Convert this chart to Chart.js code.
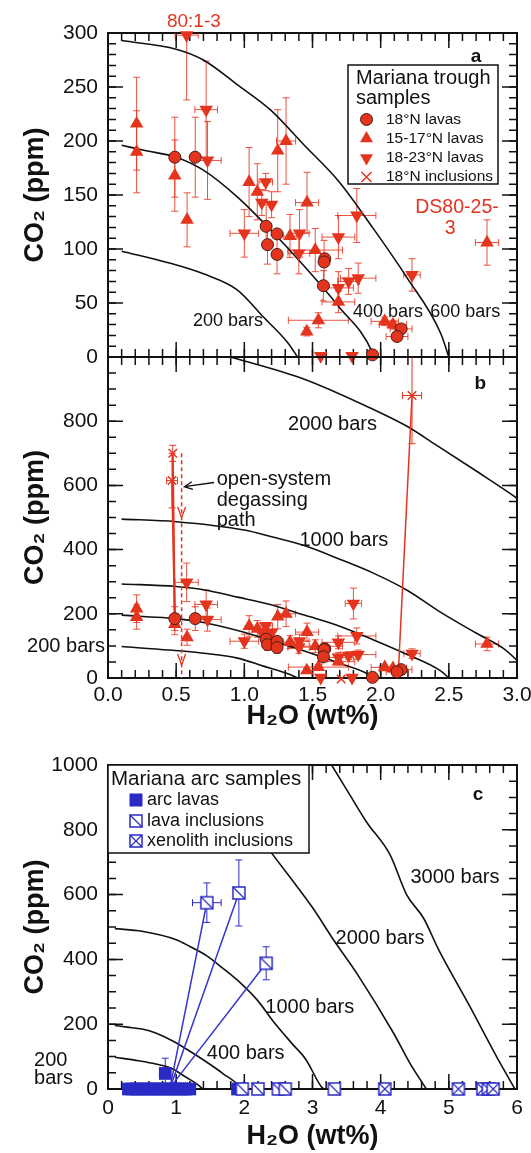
<!DOCTYPE html>
<html>
<head>
<meta charset="utf-8">
<title>Mariana CO2 vs H2O</title>
<script src="https://cdn.jsdelivr.net/npm/chart.js@4.4.1/dist/chart.umd.min.js"></script>
<style>
  html, body { margin: 0; padding: 0; background: #fff; }
  body { position: relative; width: 531px; height: 1153px; overflow: hidden; }
  canvas { position: absolute; left: 0; }
</style>
</head>
<body>
<canvas id="panel-a" width="531" height="380" style="top:0"></canvas>
<canvas id="panel-b" width="531" height="400" style="top:330px"></canvas>
<canvas id="panel-c" width="531" height="413" style="top:740px"></canvas>
<script>
// Mariana trough / arc melt volatiles: CO2 vs H2O with solubility isobars

const FONT = "'Liberation Sans', Arial, Helvetica, sans-serif";
const RED = '#e5341e';
const RED_ERR = 'rgba(229,52,30,0.85)';
const BLUE = '#2a2ac6';
const INK = '#111';

// isobars (H2O wt%, CO2 ppm)
const bar200X = [0.1, 0.45, 0.7, 0.95, 1.14, 1.32, 1.39];
const bar200Y = [98, 87, 77, 62, 37, 13, 0];
const bar400X = [0.1, 0.28, 0.5, 0.7, 0.95, 1.19, 1.44, 1.69, 1.94, 1.95];
const bar400Y = [196, 191, 185, 173, 148, 118, 84, 47, 4, 0];
const bar600X = [0.1, 0.5, 0.7, 0.95, 1.19, 1.44, 1.69, 1.94, 2.19, 2.44, 2.5];
const bar600Y = [293, 285, 275, 252, 229, 196, 163, 120, 74, 22, 0];
const bar1000X = [0.1, 0.5, 1.0, 1.2, 1.45, 1.7, 1.95, 2.2, 2.42, 2.7, 2.9, 3.13, 3.17];
const bar1000Y = [495, 487, 461, 440, 411, 370, 326, 272, 210, 140, 92, 7, 0];
const bar2000X = [0.5, 0.95, 1.44, 1.94, 2.19, 2.4, 2.69, 3.0, 3.31, 3.65, 4.19, 4.43, 4.67];
const bar2000Y = [1045, 994, 931, 838, 785, 728, 648, 560, 460, 357, 172, 79, 0];
const bar3000X = [3.1, 3.28, 3.55, 3.79, 4.14, 4.38, 4.63, 4.85, 5.31, 5.7, 5.97];
const bar3000Y = [1060, 1000, 907, 825, 722, 600, 527, 430, 254, 100, 0];

// Mariana trough samples
const lavas18X  = [0.49, 0.64, 1.16, 1.17, 1.24, 1.24, 1.59, 1.585, 1.58, 1.94, 2.15, 2.12];
const lavas18Y  = [185, 185, 121, 104, 114, 95, 91, 88, 66, 2, 26, 19];
const lavas18EX = [0, 0, 0, 0, 0, 0, 0, 0, 0, 0, 0.08, 0.08];
const lavas18EY = [37, 37, 20, 18, 0, 18, 0, 20, 14, 0, 0, 0];

const lavas1517X  = [0.21, 0.21, 0.49, 0.58, 1.035, 1.095, 1.245, 1.306, 1.46, 1.335, 1.52, 1.69, 1.543, 1.458, 2.03, 2.09, 2.78];
const lavas1517Y  = [216, 190, 168, 127, 162, 153, 191, 200, 143, 112, 99, 51, 34, 23.5, 33, 30, 106];
const lavas1517EX = [0, 0, 0, 0, 0, 0, 0, 0.07, 0.085, 0.05, 0.2, 0.12, 0.22, 0, 0.1, 0.1, 0.085];
const lavas1517EY = [43, 38, 33, 25, 32, 26, 38, 40, 28, 20, 20, 10, 7, 4, 4, 4, 21];

const lavas1823X  = [0.577, 0.72, 0.73, 1.157, 1.128, 1.2, 1.0, 1.405, 1.4, 1.69, 1.825, 1.69, 1.765, 1.835, 1.56, 1.79, 2.23];
const lavas1823Y  = [298, 229, 182, 162, 143, 141, 114.5, 114.5, 96, 111, 131, 64, 70, 73, 1, 1, 76];
const lavas1823EX = [0.085, 0.083, 0.1, 0.05, 0, 0, 0.105, 0.07, 0.08, 0.12, 0.14, 0.11, 0.08, 0.13, 0, 0, 0.06];
const lavas1823EY = [60, 45, 36, 8, 12, 12, 22, 22, 19, 20, 25, 15, 12, 14, 0, 0, 15];

// only shown on the wider panel b
const lavas1823HiX = [1.8];
const lavas1823HiY = [232];
const lavas1823HiEX = [0.06];
const lavas1823HiEY = [48];

const incl18X  = [0.475, 0.47, 2.23, 1.71];
const incl18Y  = [700, 615, 880, -3];
const incl18EX = [0, 0.04, 0.07, 0];
const incl18EY = [25, 85, 150, 0];

const degasAX = [0.475, 0.49], degasAY = [700, 185];
const degasBX = [0.47, 0.49],  degasBY = [615, 185];
const degasCX = [2.23, 2.13],  degasCY = [880, 20];
const openPathX = [0.54, 0.54], openPathY = [700, 0];

// Mariana arc samples
const arcLavaX  = [0.3, 0.36, 0.42, 0.48, 0.54, 0.6, 0.66, 0.72, 0.78, 0.84, 0.9, 0.96, 1.02, 1.08, 1.14, 1.2, 0.84, 1.9];
const arcLavaY  = [0, 0, 0, 0, 0, 0, 0, 0, 0, 0, 0, 0, 0, 0, 0, 0, 48, 0];
const arcLavaEY = [0, 0, 0, 0, 0, 0, 0, 0, 0, 0, 0, 0, 0, 0, 0, 0, 47, 0];

const lavaInclX  = [1.45, 1.92, 2.32, 1.97, 2.2, 2.5, 2.6, 3.32];
const lavaInclY  = [575, 605, 388, 0, 0, 0, 0, 0];
const lavaInclEX = [0.21, 0, 0, 0, 0, 0, 0, 0];
const lavaInclEY = [61, 102, 51, 0, 0, 0, 0, 0];

const xenoInclX = [4.06, 5.14, 5.5, 5.58, 5.65];
const xenoInclY = [0, 0, 0, 0, 0];

const mixAX = [1.45, 0.92], mixAY = [575, 15];
const mixBX = [1.92, 0.93], mixBY = [605, 15];
const mixCX = [2.32, 0.95], mixCY = [388, 15];

Chart.defaults.font.family = FONT;
Chart.defaults.color = INK;

const pts = (xs, ys) => xs.map((x, i) => ({x, y: ys[i]}));

function drawMarker(ctx, kind, x, y) {
  ctx.save();
  ctx.lineJoin = 'miter';
  if (kind === 'circle') {
    ctx.beginPath(); ctx.arc(x, y, 6, 0, Math.PI * 2);
    ctx.fillStyle = RED; ctx.fill();
    ctx.strokeStyle = '#4a1c14'; ctx.lineWidth = 1; ctx.stroke();
  } else if (kind === 'up' || kind === 'down') {
    const r = 7.5, s = kind === 'up' ? 1 : -1;
    ctx.beginPath();
    ctx.moveTo(x, y - s * r);
    ctx.lineTo(x + r * 0.866, y + s * r / 2);
    ctx.lineTo(x - r * 0.866, y + s * r / 2);
    ctx.closePath();
    ctx.fillStyle = RED; ctx.fill();
  } else if (kind === 'x') {
    ctx.strokeStyle = RED; ctx.lineWidth = 1.5;
    ctx.beginPath();
    ctx.moveTo(x - 5, y - 5); ctx.lineTo(x + 5, y + 5);
    ctx.moveTo(x + 5, y - 5); ctx.lineTo(x - 5, y + 5);
    ctx.stroke();
  } else if (kind === 'sq') {
    ctx.fillStyle = BLUE; ctx.fillRect(x - 6.5, y - 6.5, 13, 13);
  } else {
    ctx.fillStyle = '#fff'; ctx.fillRect(x - 6, y - 6, 12, 12);
    ctx.strokeStyle = BLUE; ctx.lineWidth = 1.5;
    ctx.strokeRect(x - 6, y - 6, 12, 12);
    ctx.beginPath();
    ctx.moveTo(x - 6, y - 6); ctx.lineTo(x + 6, y + 6);
    if (kind === 'sqx') { ctx.moveTo(x + 6, y - 6); ctx.lineTo(x - 6, y + 6); }
    ctx.lineWidth = 1.2; ctx.stroke();
  }
  ctx.restore();
}

function markerCanvas(kind) {
  const c = document.createElement('canvas');
  c.width = 16; c.height = 16;
  drawMarker(c.getContext('2d'), kind, 8, 8);
  return c;
}

function curve(xs, ys) {
  return {data: pts(xs, ys), showLine: true, borderColor: INK, borderWidth: 1.6,
    pointRadius: 0, cubicInterpolationMode: 'monotone', order: 10};
}
function path(xs, ys, color, extra) {
  return Object.assign({data: pts(xs, ys), showLine: true, borderColor: color, borderWidth: 1.5,
    pointRadius: 0, order: 5}, extra || {});
}
function markers(xs, ys, ex, ey, style) {
  return Object.assign({data: pts(xs, ys), errX: ex, errY: ey, showLine: false, clip: false, order: 1}, style);
}

const circleStyle = {pointStyle: 'circle', pointRadius: 6, backgroundColor: RED, borderColor: '#4a1c14', borderWidth: 1, errColor: RED_ERR};
const upStyle = {pointStyle: 'triangle', pointRadius: 7.8, backgroundColor: RED, borderColor: RED, borderWidth: 0, errColor: RED_ERR};
const downStyle = Object.assign({}, upStyle, {pointRotation: 180});
const crossStyle = {pointStyle: 'crossRot', pointRadius: 6, borderColor: RED, borderWidth: 1.5, errColor: RED};
const arcStyle = {pointStyle: 'rect', pointRadius: 9, backgroundColor: BLUE, borderColor: BLUE, borderWidth: 0, errColor: BLUE};
const lavaInclStyle = {pointStyle: markerCanvas('sqd'), pointRadius: 6, errColor: BLUE};
const xenoInclStyle = {pointStyle: markerCanvas('sqx'), pointRadius: 6, errColor: BLUE};

function drawTicks(ctx, a, scale, step, len, horizontal) {
  const n = Math.round((scale.max - scale.min) / step);
  ctx.beginPath();
  for (let i = 0; i <= n; i++) {
    const p = scale.getPixelForValue(scale.min + i * step);
    if (horizontal) {
      ctx.moveTo(p, a.bottom); ctx.lineTo(p, a.bottom - len);
      ctx.moveTo(p, a.top); ctx.lineTo(p, a.top + len);
    } else {
      ctx.moveTo(a.left, p); ctx.lineTo(a.left + len, p);
      ctx.moveTo(a.right, p); ctx.lineTo(a.right - len, p);
    }
  }
  ctx.stroke();
}

function drawErrorBars(chart) {
  const {ctx, chartArea: a, scales: {x, y}} = chart;
  const c = 3.5;
  ctx.save();
  ctx.beginPath(); ctx.rect(a.left, a.top, a.width, a.height); ctx.clip();
  ctx.lineWidth = 1;
  chart.data.datasets.forEach(ds => {
    if (!ds.errX && !ds.errY) return;
    ctx.strokeStyle = ds.errColor || RED_ERR;
    ctx.beginPath();
    ds.data.forEach((pt, i) => {
      const px = x.getPixelForValue(pt.x), py = y.getPixelForValue(pt.y);
      const ex = ds.errX ? ds.errX[i] : 0, ey = ds.errY ? ds.errY[i] : 0;
      if (ex) {
        const l = x.getPixelForValue(pt.x - ex), r = x.getPixelForValue(pt.x + ex);
        ctx.moveTo(l, py); ctx.lineTo(r, py);
        ctx.moveTo(l, py - c); ctx.lineTo(l, py + c);
        ctx.moveTo(r, py - c); ctx.lineTo(r, py + c);
      }
      if (ey) {
        const t = y.getPixelForValue(pt.y + ey), b = y.getPixelForValue(pt.y - ey);
        ctx.moveTo(px, t); ctx.lineTo(px, b);
        ctx.moveTo(px - c, t); ctx.lineTo(px + c, t);
        ctx.moveTo(px - c, b); ctx.lineTo(px + c, b);
      }
    });
    ctx.stroke();
  });
  ctx.restore();
}

function drawLegend(ctx, L) {
  ctx.save();
  ctx.fillStyle = '#fff'; ctx.fillRect(L.x, L.y, L.w, L.h);
  ctx.strokeStyle = INK; ctx.lineWidth = 1.5; ctx.strokeRect(L.x, L.y, L.w, L.h);
  ctx.textAlign = 'left'; ctx.textBaseline = 'middle';
  ctx.fillStyle = INK;
  ctx.font = L.titleSize + 'px ' + FONT;
  L.title.forEach((t, i) => ctx.fillText(t, L.titleX, L.titleY[i]));
  ctx.font = L.itemSize + 'px ' + FONT;
  L.items.forEach((it, i) => {
    drawMarker(ctx, it[0], L.markX, L.itemY[i]);
    ctx.fillStyle = INK;
    ctx.fillText(it[1], L.textX, L.itemY[i]);
  });
  ctx.restore();
}

function panelPlugin(o) {
  return {
    id: 'panel-' + o.name,
    beforeDatasetsDraw(chart) {
      const {ctx, chartArea: a, scales: {x, y}} = chart;
      ctx.save();
      ctx.strokeStyle = INK; ctx.lineWidth = 1.5;
      drawTicks(ctx, a, x, o.xMinor, 8, true);
      drawTicks(ctx, a, x, o.xMajor, 15, true);
      drawTicks(ctx, a, y, o.yMinor, 8, false);
      drawTicks(ctx, a, y, o.yMajor, 15, false);
      ctx.lineWidth = 2;
      ctx.strokeRect(a.left, a.top, a.width, a.height);
      ctx.restore();
      drawErrorBars(chart);
    },
    afterDatasetsDraw(chart) {
      const {ctx, scales: {x, y}} = chart;
      if (o.legend) drawLegend(ctx, o.legend);
      ctx.save();
      (o.notes || []).forEach(n => {
        ctx.font = (n.bold ? 'bold ' : '') + n.size + 'px ' + FONT;
        ctx.fillStyle = n.color || INK;
        ctx.textAlign = n.align || 'center';
        ctx.textBaseline = 'middle';
        ctx.fillText(n.t, x.getPixelForValue(n.x), y.getPixelForValue(n.y));
      });
      if (o.arrow) {
        const x0 = x.getPixelForValue(o.arrow[0]), y0 = y.getPixelForValue(o.arrow[1]);
        const x1 = x.getPixelForValue(o.arrow[2]), y1 = y.getPixelForValue(o.arrow[3]);
        const ang = Math.atan2(y1 - y0, x1 - x0);
        ctx.strokeStyle = INK; ctx.lineWidth = 1.3;
        ctx.beginPath();
        ctx.moveTo(x0, y0); ctx.lineTo(x1, y1);
        ctx.moveTo(x1 - 9 * Math.cos(ang - 0.45), y1 - 9 * Math.sin(ang - 0.45));
        ctx.lineTo(x1, y1);
        ctx.lineTo(x1 - 9 * Math.cos(ang + 0.45), y1 - 9 * Math.sin(ang + 0.45));
        ctx.stroke();
      }
      (o.chevrons || []).forEach(v => {
        const px = x.getPixelForValue(v[0]), py = y.getPixelForValue(v[1]);
        ctx.strokeStyle = RED; ctx.lineWidth = 1.3;
        ctx.beginPath();
        ctx.moveTo(px - 4, py - 6); ctx.lineTo(px, py + 5); ctx.lineTo(px + 4, py - 6);
        ctx.stroke();
      });
      ctx.restore();
    }
  };
}

function xAxis(min, max, step, labels, height, labelPad, titlePad) {
  return {
    type: 'linear', position: 'bottom', min, max,
    grid: {display: false, drawTicks: false}, border: {display: false},
    ticks: {display: labels, stepSize: step, padding: labelPad, color: INK, font: {size: 21},
      maxRotation: 0, autoSkip: false, callback: v => step < 1 ? Number(v).toFixed(1) : String(v)},
    title: {display: labels, text: 'H₂O (wt%)', color: INK,
      font: {size: 27, weight: 'bold', lineHeight: 1}, padding: {top: 0, bottom: titlePad}},
    afterFit(s) { s.height = height; s.paddingLeft = 0; s.paddingRight = 0; }
  };
}
function yAxis(min, max, step, hideTop) {
  return {
    type: 'linear', position: 'left', min, max,
    grid: {display: false, drawTicks: false}, border: {display: false},
    ticks: {stepSize: step, padding: 10, color: INK, font: {size: 21},
      callback: v => (hideTop && v === max) ? '' : String(v)},
    title: {display: true, text: 'CO₂ (ppm)', color: INK,
      font: {size: 27, weight: 'bold', lineHeight: 1}, padding: {top: 22, bottom: 0}},
    afterFit(s) { s.width = 108; s.paddingTop = 0; s.paddingBottom = 0; }
  };
}

function makePanel(id, o) {
  return new Chart(document.getElementById(id), {
    type: 'scatter',
    data: {datasets: o.datasets},
    options: {
      responsive: false, animation: false, events: [],
      layout: {padding: o.padding},
      plugins: {legend: {display: false}, tooltip: {enabled: false}},
      scales: {x: o.x, y: o.y}
    },
    plugins: [panelPlugin(o)]
  });
}

const troughMarkers = () => [
  markers(lavas18X, lavas18Y, lavas18EX, lavas18EY, circleStyle),
  markers(lavas1517X, lavas1517Y, lavas1517EX, lavas1517EY, upStyle),
  markers(lavas1823X, lavas1823Y, lavas1823EX, lavas1823EY, downStyle)
];

// panel a
makePanel('panel-a', {
  name: 'a',
  padding: {top: 33, right: 14, bottom: 23, left: 0},
  x: xAxis(0, 3, 0.5, false, 0, 0, 0),
  y: yAxis(0, 300, 50, false),
  xMajor: 0.5, xMinor: 0.1, yMajor: 50, yMinor: 10,
  datasets: troughMarkers().concat([
    curve(bar200X, bar200Y), curve(bar400X, bar400Y), curve(bar600X, bar600Y)
  ]),
  legend: {
    x: 348, y: 65, w: 150, h: 119,
    title: ['Mariana trough', 'samples'], titleSize: 20, titleX: 356, titleY: [78, 98],
    items: [['circle', '18°N lavas'], ['up', '15-17°N lavas'], ['down', '18-23°N lavas'], ['x', '18°N inclusions']],
    itemSize: 15.5, markX: 366.5, textX: 386, itemY: [119.5, 138.5, 158, 177]
  },
  notes: [
    {t: '200 bars', x: 0.88, y: 33, size: 18},
    {t: '400 bars', x: 2.054, y: 41.7, size: 18},
    {t: '600 bars', x: 2.62, y: 41.7, size: 18},
    {t: '80:1-3', x: 0.63, y: 310, size: 19, color: RED},
    {t: 'DS80-25-', x: 2.56, y: 138, size: 19.5, color: RED},
    {t: '3', x: 2.51, y: 118.5, size: 19.5, color: RED},
    {t: 'a', x: 2.7, y: 278, size: 19, bold: true}
  ]
});

// panel b
makePanel('panel-b', {
  name: 'b',
  padding: {top: 27, right: 14, bottom: 0, left: 0},
  x: xAxis(0, 3, 0.5, true, 52, 5, 0),
  y: yAxis(0, 1000, 200, true),
  xMajor: 0.5, xMinor: 0.1, yMajor: 200, yMinor: 50,
  datasets: [
    markers(incl18X, incl18Y, incl18EX, incl18EY, crossStyle),
    markers(lavas1823HiX, lavas1823HiY, lavas1823HiEX, lavas1823HiEY, downStyle)
  ].concat(troughMarkers(), [
    path(degasAX, degasAY, RED, {borderWidth: 2}),
    path(degasBX, degasBY, RED, {borderWidth: 2}),
    path(degasCX, degasCY, RED),
    path(openPathX, openPathY, RED, {borderDash: [4, 3], borderWidth: 1.5}),
    curve(bar200X, bar200Y), curve(bar400X, bar400Y), curve(bar600X, bar600Y),
    curve(bar1000X, bar1000Y), curve(bar2000X, bar2000Y)
  ]),
  notes: [
    {t: 'b', x: 2.73, y: 916, size: 19, bold: true},
    {t: '2000 bars', x: 1.647, y: 791, size: 20},
    {t: '1000 bars', x: 1.73, y: 428, size: 20},
    {t: '200 bars', x: -0.308, y: 97, size: 20},
    {t: 'open-system', x: 0.797, y: 619, size: 20, align: 'left'},
    {t: 'degassing', x: 0.797, y: 554, size: 20, align: 'left'},
    {t: 'path', x: 0.797, y: 491, size: 20, align: 'left'}
  ],
  arrow: [0.778, 609, 0.56, 596],
  chevrons: [[0.54, 515], [0.54, 56]]
});

// panel c
makePanel('panel-c', {
  name: 'c',
  padding: {top: 25, right: 14, bottom: 0, left: 0},
  x: xAxis(0, 6, 1, true, 64, 7, 3),
  y: yAxis(0, 1000, 200, false),
  xMajor: 1, xMinor: 0.2, yMajor: 200, yMinor: 50,
  datasets: [
    markers(xenoInclX, xenoInclY, null, null, xenoInclStyle),
    markers(lavaInclX, lavaInclY, lavaInclEX, lavaInclEY, lavaInclStyle),
    markers(arcLavaX, arcLavaY, null, arcLavaEY, arcStyle),
    path(mixAX, mixAY, '#3434cc'), path(mixBX, mixBY, '#3434cc'), path(mixCX, mixCY, '#3434cc'),
    curve(bar200X, bar200Y), curve(bar400X, bar400Y), curve(bar1000X, bar1000Y),
    curve(bar2000X, bar2000Y), curve(bar3000X, bar3000Y)
  ],
  legend: {
    x: 108, y: 25, w: 201, h: 88,
    title: ['Mariana arc samples'], titleSize: 20.5, titleX: 111, titleY: [39],
    items: [['sq', 'arc lavas'], ['sqd', 'lava inclusions'], ['sqx', 'xenolith inclusions']],
    itemSize: 18, markX: 136, textX: 147, itemY: [60, 81, 101]
  },
  notes: [
    {t: 'c', x: 5.43, y: 907, size: 19, bold: true},
    {t: '3000 bars', x: 5.09, y: 654, size: 20},
    {t: '2000 bars', x: 3.99, y: 466, size: 20},
    {t: '1000 bars', x: 2.96, y: 253, size: 20},
    {t: '400 bars', x: 2.02, y: 111, size: 20},
    {t: '200', x: -1.085, y: 89.5, size: 20, align: 'left'},
    {t: 'bars', x: -1.085, y: 31, size: 20, align: 'left'}
  ]
});
</script>
</body>
</html>
